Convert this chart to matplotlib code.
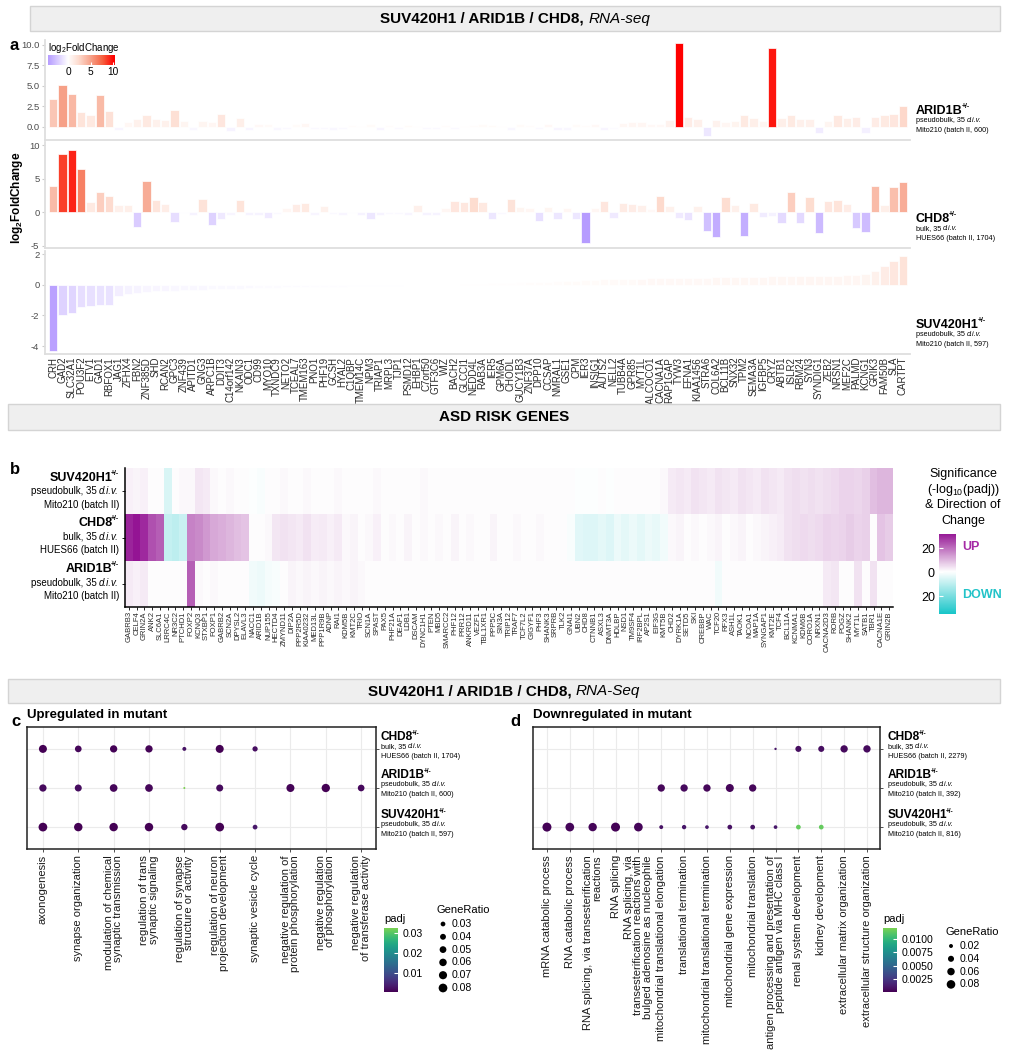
import numpy as np
import matplotlib
matplotlib.use('Agg')
import matplotlib.pyplot as plt
from matplotlib.colors import LinearSegmentedColormap, Normalize, ListedColormap
from matplotlib.patches import Rectangle

plt.rcParams['font.family'] = ['Liberation Sans', 'DejaVu Sans']
plt.rcParams['mathtext.fontset'] = 'custom'
plt.rcParams['mathtext.rm'] = 'Liberation Sans'
plt.rcParams['mathtext.it'] = 'Liberation Sans:italic'
plt.rcParams['mathtext.bf'] = 'Liberation Sans:bold'

nan = np.nan

# ---------------- panel a data: log2FoldChange per gene ----------------
genes_a = ["CRH", "GAD2", "SLC32A1", "POU3F2", "ETV1", "GAD1", "RBFOX1", "JAG1", "ZFHX4", "FBN2",
           "ZNF385D", "SHD", "RCAN2", "GPC3", "ZNF439", "APITD1", "GNG3", "ARPC1B", "DDIT3", "C14orf142",
           "NKAIN3", "ODC1", "CD99", "MYO10", "TXNDC9", "NETO2", "TCEAL7", "TMEM163", "PNO1", "PHF19",
           "GCSH", "HYAL2", "C1QBP", "TMEM14C", "NPM3", "TRIAP1", "MRPL3", "TJP1", "PSMD12", "EHBP1",
           "C7orf50", "GTF3C6", "WIZ", "BACH2", "GLCCI1", "NEDD4L", "RAB3A", "IER5", "GPM6A", "CHODL",
           "GUCY1B3", "ZNF37A", "DPP10", "CCSAP", "NMRAL1", "GSE1", "CPM", "IER3", "INSIG1", "AUTS2",
           "NELL2", "TUBB4A", "GPR85", "MYT1L", "CALCOCO1", "CACNA1A", "RAP1GAP", "TYW3", "EFNA1", "KIAA1456",
           "STRA6", "COL6A2", "BCL11B", "SNX32", "TPM2", "SEMA3A", "IGFBP5", "CRYZ", "ABTB1", "ISLR2",
           "RBM24", "SYN3", "SYNDIG1", "ZEB2", "NRSN1", "MEF2C", "PALMD", "KCNG1", "GRIK3", "FAM50B",
           "SLA", "CARTPT"]

arid1b_lfc = [3.35, 5.1, 4.0, 1.8, 1.45, 3.95, 1.95, -0.4, 0.55, 0.95,
              1.45, 0.95, 0.9, 2.0, 0.7, -0.35, 0.7, 0.6, 1.6, -0.55,
              1.05, -0.4, 0.4, 0.35, -0.35, -0.3, 0.3, 0.5, -0.25, -0.3,
              -0.35, -0.3, 0.2, 0.15, 0.3, -0.4, 0.2, -0.3, 0.25, 0.15,
              -0.3, -0.25, 0.2, -0.3, 0.15, 0.2, 0.3, 0.25, 0.15, -0.35,
              0.3, 0.2, -0.3, 0.4, -0.4, -0.35, 0.3, 0.2, 0.4, -0.4,
              -0.2, 0.5, 0.6, 0.6, 0.4, 0.4, 0.8, 10.2, 1.2, 1.0,
              -1.1, 0.8, 0.6, 0.75, 1.4, 1.1, 0.7, 9.6, 1.1, 1.4,
              1.0, 1.0, -0.8, 0.7, 1.5, 1.1, 1.25, -0.7, 1.25, 1.4,
              1.6, 2.5]

chd8_lfc = [3.85, 8.6, 9.25, 6.4, 1.5, 3.0, 2.35, 1.0, 1.1, -2.25,
            4.6, 1.75, 1.15, -1.5, -0.2, -0.5, 1.9, -2.0, -1.0, -0.4,
            1.8, -0.5, -0.5, -0.9, -0.3, 0.6, 1.2, 1.4, -0.4, 0.9,
            -0.3, -0.4, -0.2, -0.5, -1.1, -0.5, -0.3, -0.3, -0.4, 1.0,
            -0.5, -0.5, 0.6, 1.6, 1.55, 2.3, 1.5, -1.1, -0.3, 1.9,
            0.7, 0.6, -1.4, 0.7, -1.1, 0.6, -1.1, -4.6, 0.6, 1.6,
            -0.9, 1.3, 1.2, 1.0, 0.4, 2.4, 0.9, -0.9, -1.2, 0.9,
            -2.8, -3.7, 2.2, 1.0, -3.6, 1.4, -0.8, -0.6, -1.6, 3.0,
            -1.7, 2.3, -3.1, 1.6, 1.8, 1.2, -2.4, -3.0, 3.9, 1.1,
            3.7, 4.5]

suv_lfc = [-4.3, -2.0, -1.85, -1.45, -1.4, -1.35, -1.3, -0.75, -0.62, -0.52,
           -0.46, -0.43, -0.4, -0.38, -0.36, -0.34, -0.32, -0.3, -0.29, -0.27,
           -0.25, -0.24, -0.22, -0.21, -0.2, -0.18, -0.17, -0.16, -0.15, -0.14,
           -0.13, -0.12, -0.11, -0.1, -0.09, -0.08, -0.07, -0.06, -0.05, -0.04,
           -0.03, -0.02, -0.01, 0.01, 0.03, 0.05, 0.07, 0.09, 0.11, 0.13,
           0.15, 0.17, 0.19, 0.21, 0.23, 0.25, 0.27, 0.29, 0.31, 0.35,
           0.37, 0.38, 0.39, 0.4, 0.41, 0.42, 0.43, 0.44, 0.45, 0.46,
           0.47, 0.48, 0.49, 0.5, 0.51, 0.52, 0.53, 0.54, 0.55, 0.55,
           0.56, 0.57, 0.58, 0.59, 0.6, 0.61, 0.62, 0.7, 0.9, 1.2,
           1.55, 1.9]

# ---------------- panel b data: signed -log10(padj) ----------------
asd_genes = ["GABRB3", "CELF4", "GRIN2A", "ANK2", "SLC6A1", "LRRC4C", "NR3C2", "PTCHD1", "FOXP2", "KCNQ3",
             "STXBP1", "FOXP1", "GABRB2", "SCN2A", "DPYSL2", "ELAVL3", "NACC1", "ARID1B", "NUP155", "HECTD4",
             "ZMYND11", "DIP2A", "PPP2R5D", "KIAA0232", "MED13L", "PPP1R9B", "ADNP", "RAI1", "KDM5B", "KMT2C",
             "TRIO", "SCN1A", "SPAST", "PAX5", "PHF21A", "DEAF1", "LDB1", "DSCAM", "DYNC1H1", "PTEN",
             "MBD5", "SMARCC2", "PHF12", "PRR12", "ANKRD11", "VEZF1", "TBL1XR1", "PPP5C", "SIN3A", "TRIP12",
             "TRAF7", "TCF7L2", "GIGYF1", "PHF3", "SHANK3", "SRPRB", "TLK2", "GNAI1", "UBN2", "CHD8",
             "CTNNB1", "ASXL3", "DNMT3A", "HDLBP", "NSD1", "TM9SF4", "IRF2BPL", "AP2S1", "EIF3G", "KMT5B",
             "CHD2", "DYRK1A", "SETD5", "SKI", "CREBBP", "WAC", "TCF20", "RFX3", "ASH1L", "TAOK1",
             "NCOA1", "MAP1A", "SYNGAP1", "KMT2E", "TCF4", "BCL11A", "KCNMA1", "KDM6B", "CORO1A", "NRXN1",
             "CACNA2D3", "RORB", "POGZ", "SHANK2", "MYT1L", "SATB1", "TBR1", "CACNA1E", "GRIN2B"]

asd_suv = [2, 1.5, 2, 0.5, 0.3, -6, 0.5, 1, 1, 3.5,
           3, 1, 0.5, 1, 0.5, 0.3, -0.5, -1, 0.3, 0.5,
           1, 0.5, 0.3, 1, 0.5, 0.3, 0.5, 1, 0.3, 0.5,
           0.3, 0.5, 1, 0.3, 0.5, 0.3, 0.5, 0.3, 1, 0.3,
           0.5, 0.3, 0.5, 0.3, 0.5, 0.3, 0.3, 0.5, 0.3, 0.5,
           0.3, 0.5, 0.3, 0.5, 0.3, 0.5, 0.3, 0.3, -0.5, -0.5,
           -0.3, 0.3, -0.5, 0.3, 0.5, 0.3, 0.5, 0.3, 0.5, 1.0,
           3, 3.5, 3, 4, 3.5, 3, 4, 3.5, 3, 4,
           3.5, 3, 4, 3.5, 3, 4, 4.5, 4, 4.5, 4,
           4.5, 5, 6, 6, 5.5, 6.5, 9, 10, 10]

asd_chd8 = [30, 32, 29, 24, 22, -9, -10, -8, 17, 16,
            14, 12, 11, 10, 9, 8, 0.5, 0.3, 1, 3.5,
            4, 3.5, 3, 4, 2.5, 3, 2, 3, 1, 1.5,
            0.5, 1, 2, 0.5, 1, 0.5, 1.5, 0.3, 1, 0.5,
            1, 0.3, 1.5, 0.5, 1, 0.3, 0.5, 1.5, 0.3, 0.5,
            1, 0.3, 0.5, 1, 0.3, 0.5, 0.3, -1, -4.5, -5,
            -5, -4, -5, -3, -4, -3, -4, -2.5, -3.5, -2,
            1, 1.5, 0.5, 1, 0.5, 1, 1.5, 0.5, 1, 1.5,
            0.5, 1, 1.5, 2, 2.5, 4, 4.5, 5, 4.5, 5,
            6, 5.5, 6, 7, 6, 6.5, 0.3, 8, 7]

asd_arid1b = [3, 2, 3, 0.5, 0.3, 0.5, 0.3, 0.5, 22, 1,
              0.5, 1, 0.5, 0.3, 0.5, 0.3, -2, -2.5, -1.5, -1,
              0.5, 1.5, 1, 1.5, 1, 1.5, 1, 1.5, 1, 1.5,
              1, 0.5, 0.3, 0.5, 0.3, 0.5, 0.3, 0.5, 0.3, 0.5,
              0.3, 0.5, 0.3, 0.3, 0.5, 0.3, 0.5, 0.3, 0.3, 0.5,
              0.3, 0.5, 0.3, 0.3, 0.5, 0.3, 0.5, 0.3, 0.3, 0.5,
              0.3, 0.3, 0.5, 0.3, 0.3, 0.5, 0.3, 0.3, 0.5, 0.3,
              0.3, 0.5, 0.3, 0.3, 0.5, 0.3, -2, 0.3, 0.5, 0.3,
              0.3, 0.5, 0.3, 0.3, 0.5, 0.3, 0.5, 0.3, 0.5, 0.3,
              3, 3.5, 0.5, 0.5, 4, 0.3, 4, 0.5, 0.3]

# ---------------- panel c / d data: GO enrichment ----------------
up_terms = ['axonogenesis', 'synapse organization', 'modulation of chemical\nsynaptic transmission',
            'regulation of trans\nsynaptic signaling', 'regulation of synapse\nstructure or activity',
            'regulation of neuron\nprojection development', 'synaptic vesicle cycle',
            'negative regulation of\nprotein phosphorylation', 'negative regulation\nof phosphorylation',
            'negative regulation\nof transferase activity']
up_ratio_suv = [0.08, 0.075, 0.075, 0.075, 0.045, 0.08, 0.03, nan, nan, nan]
up_ratio_arid1b = [0.057, 0.053, 0.063, 0.063, 0.02, 0.053, nan, 0.068, 0.073, 0.049]
up_ratio_chd8 = [0.068, 0.049, 0.057, 0.057, 0.025, 0.068, 0.034, nan, nan, nan]
up_padj_suv = [0.0001, 0.0003, 0.0002, 0.0002, 0.0015, 0.0001, 0.003, nan, nan, nan]
up_padj_arid1b = [0.0015, 0.0018, 0.001, 0.0012, 0.0325, 0.0016, nan, 0.0009, 0.0007, 0.0014]
up_padj_chd8 = [0.0006, 0.0012, 0.0008, 0.0009, 0.0025, 0.0006, 0.002, nan, nan, nan]

down_terms = ['mRNA catabolic process', 'RNA catabolic process',
              'RNA splicing, via transesterification\nreactions', 'RNA splicing',
              'RNA splicing, via\ntransesterification reactions with\nbulged adenosine as nucleophile',
              'mitochondrial translational elongation', 'translational termination',
              'mitochondrial translational termination', 'mitochondrial gene expression',
              'mitochondrial translation',
              'antigen processing and presentation of\npeptide antigen via MHC class I',
              'renal system development', 'kidney development',
              'extracellular matrix organization', 'extracellular structure organization']
down_ratio_suv = [0.088, 0.082, 0.076, 0.088, 0.082, 0.02, 0.023, 0.0185, 0.026, 0.026,
                  0.0185, 0.026, 0.026, nan, nan]
down_ratio_arid1b = [nan, nan, nan, nan, nan, 0.058, 0.058, 0.058, 0.069, 0.058,
                     nan, nan, nan, nan, nan]
down_ratio_chd8 = [nan, nan, nan, nan, nan, nan, nan, nan, nan, nan,
                   0.013, 0.04, 0.04, 0.058, 0.058]
down_padj_suv = [0.0001, 0.0002, 0.0002, 0.0001, 0.0002, 0.0008, 0.0009, 0.001, 0.0007, 0.0008,
                 0.001, 0.0115, 0.0115, nan, nan]
down_padj_arid1b = [nan, nan, nan, nan, nan, 0.0003, 0.0004, 0.0003, 0.0002, 0.0003,
                    nan, nan, nan, nan, nan]
down_padj_chd8 = [nan, nan, nan, nan, nan, nan, nan, nan, nan, nan,
                  0.0009, 0.0006, 0.0006, 0.0004, 0.0004]

# ---------------- figure helpers ----------------
W, H = 1012, 1050
fig = plt.figure(figsize=(W / 100, H / 100), dpi=100)
renderer = fig.canvas.get_renderer()
overlay = fig.add_axes([0, 0, 1, 1], zorder=5)
overlay.set_xlim(0, W)
overlay.set_ylim(H, 0)
overlay.axis('off')
overlay.patch.set_alpha(0)


def px_ax(x0, y0, x1, y1):
    return fig.add_axes([x0 / W, 1 - y1 / H, (x1 - x0) / W, (y1 - y0) / H])


def ftext(x, y, s, **kw):
    kw.setdefault('va', 'center')
    return fig.text(x / W, 1 - y / H, s, **kw)


def mixed_text(x, y, parts, size, ha='left', gap=0.0):
    # parts: list of (string, style dict); drawn side by side
    texts = [ftext(0, y, s, fontsize=size, ha='left', **st) for s, st in parts]
    widths = [t.get_window_extent(renderer).width for t in texts]
    total = sum(widths) + gap * (len(parts) - 1)
    start = x if ha == 'left' else (x - total if ha == 'right' else x - total / 2)
    for t, w in zip(texts, widths):
        t.set_x(start / W)
        start += w + gap


def header(x0, x1, y0, y1, bold, italic=''):
    fig.patches.append(Rectangle((x0 / W, 1 - y1 / H), (x1 - x0) / W, (y1 - y0) / H,
                                 transform=fig.transFigure, facecolor='#efefef',
                                 edgecolor='#d4d4d4', lw=1, zorder=0))
    parts = [(bold, dict(fontweight='bold'))]
    if italic:
        parts.append((italic, dict(fontstyle='italic')))
    mixed_text((x0 + x1) / 2, (y0 + y1) / 2, parts, 11, ha='center', gap=4.3)


def sub_line(x, y, line, size, ha):
    # lines may carry an italic "d.i.v." tail
    if line.endswith('d.i.v.'):
        mixed_text(x, y, [(line[:-7], {}), ('d.i.v.', dict(fontstyle='italic'))], size, ha=ha,
                   gap=size * 0.36)
    else:
        ftext(x, y, line, fontsize=size, ha=ha)


def strain_label(x, y, name, subs, size=9, subsize=5.2, dy=10, ha='left'):
    sup_kw = dict(fontsize=size * 0.55, fontweight='bold')
    if ha == 'left':
        t = ftext(x, y, name, fontsize=size, fontweight='bold', ha='left')
        bb = t.get_window_extent(renderer)
        ftext(bb.x1 - 1.5, y - size * 0.45, '+/-', ha='left', **sup_kw)
    else:
        s = ftext(x, y - size * 0.45, '+/-', ha='right', **sup_kw)
        ws = s.get_window_extent(renderer).width
        ftext(x - ws + 1.5, y, name, fontsize=size, fontweight='bold', ha='right')
    for i, line in enumerate(subs):
        sub_line(x, y + dy * (i + 1), line, subsize, ha)


# ---------------- headers ----------------
header(30, 1000, 6, 31, 'SUV420H1 / ARID1B / CHD8,', 'RNA-seq')
header(8, 1000, 404, 430, 'ASD RISK GENES')
header(8, 1000, 679, 703, 'SUV420H1 / ARID1B / CHD8,', 'RNA-Seq')

# ---------------- panel a ----------------
lfc_cmap = LinearSegmentedColormap.from_list('lfc', [
    (0.0, '#7b45ff'), (0.3, '#bca4ff'), (0.5, '#ffffff'), (0.62, '#fddacd'),
    (0.75, '#f6a189'), (0.88, '#f7603f'), (1.0, '#ff0000')])
lfc_norm = Normalize(-10.2, 10.2)

xpos = np.arange(len(genes_a))
bar_panels = [
    (arid1b_lfc, 40, 140, (-1.6, 10.6), [0, 2.5, 5, 7.5, 10], ['0.0', '2.5', '5.0', '7.5', '10.0']),
    (chd8_lfc, 142, 248, (-5.37, 10.45), [-5, 0, 5, 10], ['-5', '0', '5', '10']),
    (suv_lfc, 251, 354, (-4.52, 2.2), [-4, -2, 0, 2], ['-4', '-2', '0', '2']),
]
for k, (vals, y0, y1, ylim, yt, ytl) in enumerate(bar_panels):
    ax = px_ax(45, y0, 910, y1)
    vals = np.array(vals)
    ax.bar(xpos, vals, width=0.9, color=lfc_cmap(lfc_norm(vals)), edgecolor='white', linewidth=0.5)
    ax.set_xlim(-0.86, 91.75)
    ax.set_ylim(*ylim)
    ax.set_yticks(yt)
    ax.set_yticklabels(ytl)
    for sp in ['top', 'right']:
        ax.spines[sp].set_visible(False)
    for sp in ['left', 'bottom']:
        ax.spines[sp].set_color('#dedede')
        ax.spines[sp].set_linewidth(1.3)
    ax.tick_params(axis='y', labelsize=6.8, colors='#4d4d4d', length=2, pad=2, color='#cccccc')
    if k == 2:
        ax.set_xticks(xpos)
        ax.set_xticklabels(genes_a, rotation=90, fontsize=7, color='#2a2a2a')
        ax.tick_params(axis='x', length=0, pad=2)
    else:
        ax.set_xticks([])

strain_label(916, 111, 'ARID1B', ['pseudobulk, 35 d.i.v.', 'Mito210 (batch II, 600)'], dy=9.5)
strain_label(916, 219, 'CHD8', ['bulk, 35 d.i.v.', 'HUES66 (batch II, 1704)'], dy=9.5)
strain_label(916, 325, 'SUV420H1', ['pseudobulk, 35 d.i.v.', 'Mito210 (batch II, 597)'], dy=9.5)

ftext(10, 46, 'a', fontsize=12, fontweight='bold')
ftext(17, 198, r'$\mathbf{log}_{\mathbf{2}}\mathbf{FoldChange}$', fontsize=8.5, rotation=90, ha='center')

# legend colour bar of panel a
ftext(48, 48, r'log$_2$FoldChange', fontsize=7, ha='left')
axl = px_ax(48, 55, 115, 65)
axl.imshow(np.linspace(-4.45, 10.4, 256)[None, :], aspect='auto', cmap=lfc_cmap, norm=lfc_norm,
           extent=(-4.45, 10.4, 0, 1))
axl.set_xlim(-4.45, 10.4)
axl.set_xticks([0, 5, 10])
axl.set_yticks([])
axl.tick_params(axis='x', labelsize=7.3, length=2, color='white', direction='in', pad=1.5)
for sp in axl.spines.values():
    sp.set_visible(False)

# ---------------- panel b ----------------
heat_cmap = LinearSegmentedColormap.from_list('sig', ['#19c6c9', '#ffffff', '#8b008b'])
heat_norm = Normalize(-35, 35)
mat = np.array([asd_suv, asd_chd8, asd_arid1b])
ng = len(asd_genes)
axh = px_ax(125, 468, 893, 607)
axh.imshow(mat, aspect='auto', cmap=heat_cmap, norm=heat_norm, interpolation='nearest',
           extent=(-0.5, ng - 0.5, 2.5, -0.5))
axh.set_xlim(-0.5, ng - 0.5)
axh.set_ylim(2.5, -0.5)
axh.set_xticks(np.arange(ng))
axh.set_xticklabels(asd_genes, rotation=90, fontsize=5.5, color='#2a2a2a')
axh.set_yticks([0, 1, 2])
axh.set_yticklabels([])
axh.tick_params(axis='x', length=2, pad=1, width=0.6)
axh.tick_params(axis='y', length=2, width=0.6)
for sp in ['top', 'right']:
    axh.spines[sp].set_visible(False)
for sp in ['left', 'bottom']:
    axh.spines[sp].set_linewidth(1.1)

ftext(10, 470, 'b', fontsize=12, fontweight='bold')
strain_label(119, 478, 'SUV420H1', ['pseudobulk, 35 d.i.v.', 'Mito210 (batch II)'],
             size=9, subsize=7, dy=13.5, ha='right')
strain_label(119, 523, 'CHD8', ['bulk, 35 d.i.v.', 'HUES66 (batch II)'],
             size=9, subsize=7, dy=13.5, ha='right')
strain_label(119, 569, 'ARID1B', ['pseudobulk, 35 d.i.v.', 'Mito210 (batch II)'],
             size=9, subsize=7, dy=13.5, ha='right')

for i, line in enumerate(['Significance', r'(-log$_{10}$(padj))', '& Direction of', 'Change']):
    ftext(963, 474 + 15.5 * i, line, fontsize=9, ha='center')
axcb = px_ax(939, 534, 956, 614)
axcb.imshow(np.linspace(-35, 32, 256)[:, None], aspect='auto', cmap=heat_cmap, norm=heat_norm,
            origin='lower', extent=(0, 1, -35, 32))
axcb.set_ylim(-35, 32)
axcb.set_xticks([])
axcb.set_yticks([-20, 0, 20])
axcb.set_yticklabels(['20', '0', '20'])
axcb.tick_params(axis='y', labelsize=9, length=3, color='white', direction='in', pad=3)
for sp in axcb.spines.values():
    sp.set_visible(False)
ftext(962, 547, 'UP', fontsize=9, fontweight='bold', color='#a52aa5', ha='left')
ftext(962, 595, 'DOWN', fontsize=9, fontweight='bold', color='#22c3c8', ha='left')

# ---------------- panels c and d ----------------
padj_cmap = ListedColormap(plt.get_cmap('viridis')(np.linspace(0, 0.8, 256)))


def dot_size(g, gmin, gmax, dmin, dmax):
    frac = np.clip((np.asarray(g, dtype=float) - gmin) / (gmax - gmin), 0, 1)
    return ((dmin + (dmax - dmin) * np.sqrt(frac)) * 0.72) ** 2


def dot_panel(box, xlim, letter, letter_x, title, terms, ratios, padjs, gscale, prange,
              strain_x, strain_subs, cb_x, pticks, pticklabels, gr_x, gr_y, gr_vals):
    x0, x1 = box
    ax = px_ax(x0, 727, x1, 849)
    pmin, pmax = prange
    for row, (r, p) in enumerate(zip(ratios, padjs)):
        r = np.array(r, dtype=float)
        p = np.array(p, dtype=float)
        ok = ~np.isnan(r)
        xs = np.arange(len(terms))[ok]
        ax.scatter(xs, np.full(xs.size, row), s=dot_size(r[ok], *gscale), c=p[ok], cmap=padj_cmap,
                   vmin=pmin, vmax=pmax, edgecolors='none', zorder=3)
    ax.set_xlim(*xlim)
    ax.set_ylim(-0.56, 2.56)
    ax.set_xticks(np.arange(len(terms)))
    ax.set_xticklabels(terms, rotation=90, fontsize=8, linespacing=0.92, multialignment='right',
                       color='#1a1a1a')
    ax.set_yticks([0, 1, 2])
    ax.set_yticklabels([])
    ax.yaxis.tick_right()
    ax.grid(True, color='#ebebeb', lw=0.8, zorder=0)
    ax.set_axisbelow(True)
    ax.tick_params(axis='both', length=2.5, width=0.6, color='#333333', pad=2)
    for sp in ax.spines.values():
        sp.set_linewidth(1.1)
        sp.set_color('#222222')
    ftext(letter_x, 722, letter, fontsize=12, fontweight='bold')
    ftext(x0, 715, title, fontsize=9.5, fontweight='bold', ha='left')
    names = ['CHD8', 'ARID1B', 'SUV420H1']
    for yy, nm, subs in zip([737, 775, 815], names, strain_subs):
        strain_label(strain_x, yy, nm, subs, size=8.6, subsize=5.2, dy=10)
    # padj colour bar
    ftext(cb_x, 919, 'padj', fontsize=8, ha='left')
    axp = px_ax(cb_x, 928, cb_x + 14, 992)
    axp.imshow(np.linspace(pmin, pmax, 256)[:, None], aspect='auto', cmap=padj_cmap,
               vmin=pmin, vmax=pmax, origin='lower', extent=(0, 1, pmin, pmax))
    axp.set_ylim(pmin, pmax)
    axp.set_xticks([])
    axp.yaxis.tick_right()
    axp.set_yticks(pticks)
    axp.set_yticklabels(pticklabels)
    axp.tick_params(axis='y', labelsize=7.6, length=3, color='white', direction='in', pad=3)
    for sp in axp.spines.values():
        sp.set_visible(False)
    # GeneRatio size legend
    ftext(gr_x, gr_y, 'GeneRatio', fontsize=8, ha='left')
    for i, g in enumerate(gr_vals):
        yy = gr_y + 14 + 12.8 * i
        overlay.scatter([gr_x + 6], [yy], s=dot_size([g], *gscale), color='black', edgecolors='none')
        ftext(gr_x + 15, yy, '%g' % g, fontsize=7.6, ha='left')


dot_panel((27, 376), (-0.45, 9.42), 'c', 11, 'Upregulated in mutant', up_terms,
          [up_ratio_suv, up_ratio_arid1b, up_ratio_chd8],
          [up_padj_suv, up_padj_arid1b, up_padj_chd8],
          (0.02, 0.085, 2.0, 9.0), (0.0005, 0.0325), 381,
          [['bulk, 35 d.i.v.', 'HUES66 (batch II, 1704)'],
           ['pseudobulk, 35 d.i.v.', 'Mito210 (batch II, 600)'],
           ['pseudobulk, 35 d.i.v.', 'Mito210 (batch II, 597)']],
          384, [0.01, 0.02, 0.03], ['0.01', '0.02', '0.03'],
          437, 910, [0.03, 0.04, 0.05, 0.06, 0.07, 0.08])

dot_panel((533, 880), (-0.61, 14.57), 'd', 510, 'Downregulated in mutant', down_terms,
          [down_ratio_suv, down_ratio_arid1b, down_ratio_chd8],
          [down_padj_suv, down_padj_arid1b, down_padj_chd8],
          (0.012, 0.088, 1.5, 9.0), (0.0, 0.0121), 888,
          [['bulk, 35 d.i.v.', 'HUES66 (batch II, 2279)'],
           ['pseudobulk, 35 d.i.v.', 'Mito210 (batch II, 392)'],
           ['pseudobulk, 35 d.i.v.', 'Mito210 (batch II, 816)']],
          883, [0.0025, 0.005, 0.0075, 0.01], ['0.0025', '0.0050', '0.0075', '0.0100'],
          945, 932, [0.02, 0.04, 0.06, 0.08])

fig.savefig('out.png', dpi=100)
